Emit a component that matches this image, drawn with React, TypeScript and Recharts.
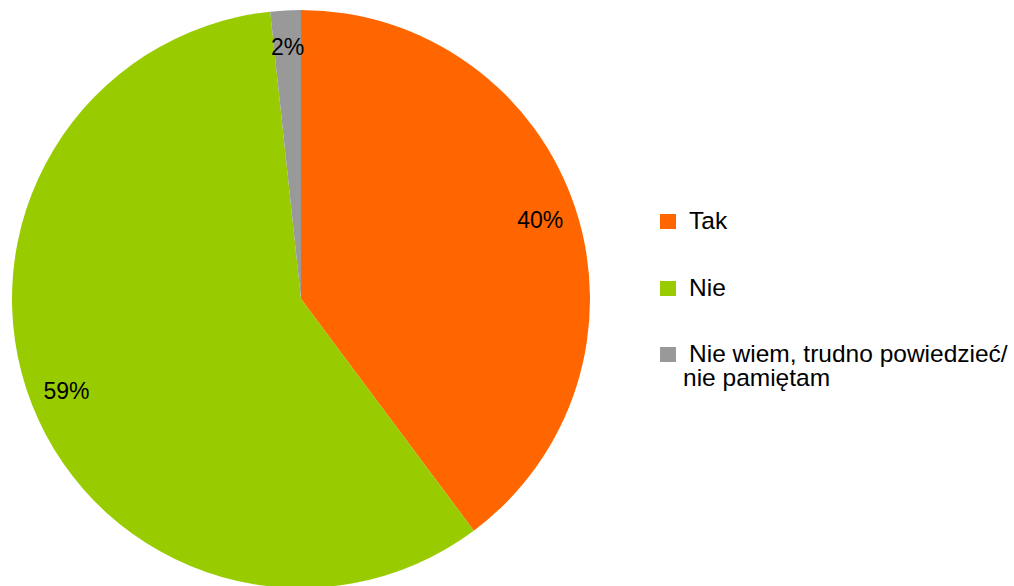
import React from "react";
import { PieChart, Pie, Cell, Legend } from "recharts";

const categories = ["Tak", "Nie", "Nie wiem, trudno powiedzieć/ nie pamiętam"];
const values = [39.8, 58.5, 1.7];
const colors = ["#FF6600", "#99CC00", "#999999"];
const legendLines = [["Tak"], ["Nie"], ["Nie wiem, trudno powiedzieć/", "nie pamiętam"]];

const data = categories.map((name, i) => ({ name, value: values[i] }));

const FONT = "'Liberation Sans', Arial, sans-serif";
const RAD = Math.PI / 180;

const renderLabel = (props: any) => {
  const { cx, cy, midAngle, outerRadius, value } = props;
  const r = outerRadius * 0.872;
  const x = cx + r * Math.cos(-midAngle * RAD);
  const y = cy + r * Math.sin(-midAngle * RAD);
  return (
    <text
      x={x}
      y={y + 8}
      textAnchor="middle"
      fill="#000"
      fontSize={23}
      fontFamily={FONT}
    >
      {Math.round(value)}%
    </text>
  );
};

const baselines = [229, 296, 362];

const renderLegend = () => (
  <div style={{ position: "relative", width: 1014, height: 586, pointerEvents: "none" }}>
    {legendLines.map((lines, i) => (
      <div key={i}>
        <div
          style={{
            position: "absolute",
            left: 660,
            top: baselines[i] - 15,
            width: 16,
            height: 15,
            background: colors[i],
          }}
        />
        <div
          style={{
            position: "absolute",
            left: 683,
            top: baselines[i] - 20.5,
            fontFamily: FONT,
            fontSize: 24.5,
            lineHeight: "24px",
            color: "#000",
            whiteSpace: "nowrap",
          }}
        >
          {lines.map((l, j) => (
            <div key={j} style={{ paddingLeft: j === 0 ? 6 : 0 }}>{l}</div>
          ))}
        </div>
      </div>
    ))}
  </div>
);

export default function App() {
  return (
    <div style={{ position: "absolute", left: 0, top: 0, width: 1014, height: 586, background: "#fff" }}>
      <PieChart width={1014} height={586} margin={{ top: 0, right: 0, bottom: 0, left: 0 }}>
        <Pie
          data={data}
          dataKey="value"
          nameKey="name"
          cx={301}
          cy={299}
          outerRadius={289}
          startAngle={90}
          endAngle={-270}
          stroke="none"
          label={renderLabel}
          labelLine={false}
          isAnimationActive={false}
        >
          {data.map((d, i) => (
            <Cell key={d.name} fill={colors[i]} />
          ))}
        </Pie>
        <Legend
          content={renderLegend}
          wrapperStyle={{ left: 0, top: 0, width: 1014, height: 586 }}
        />
      </PieChart>
    </div>
  );
}
